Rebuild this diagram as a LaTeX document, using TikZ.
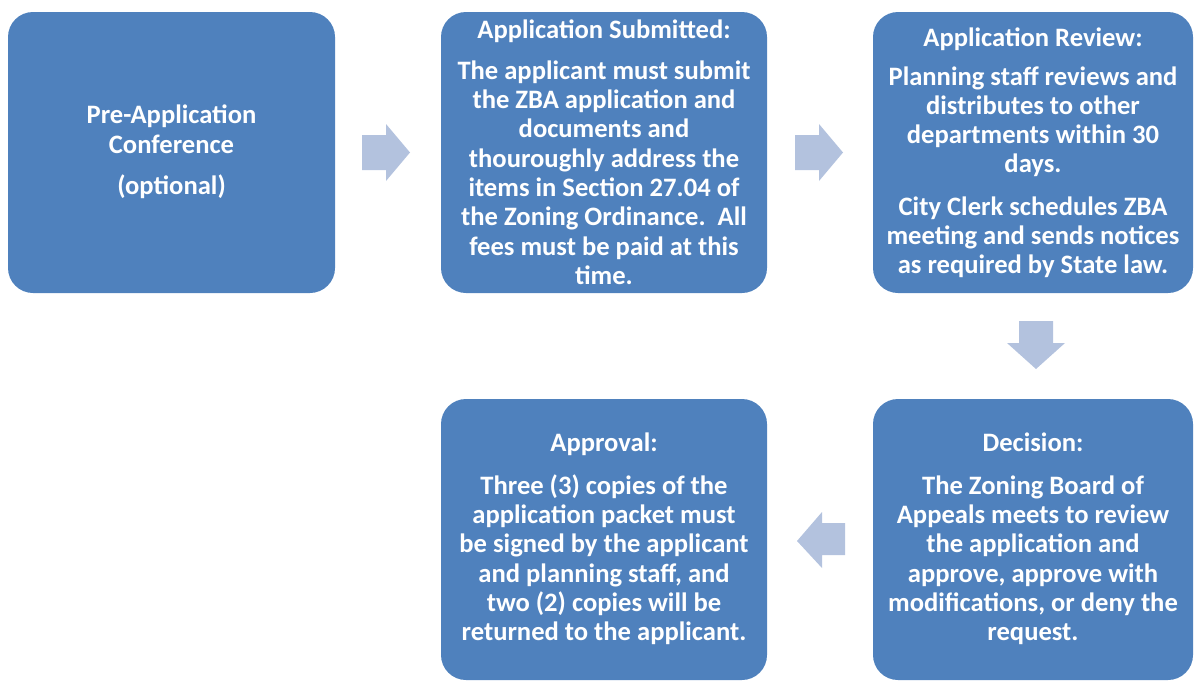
\documentclass[tikz,border=0pt]{standalone}
\usepackage{fontspec}
\setmainfont{Carlito}
\definecolor{boxblue}{RGB}{79,129,189}
\definecolor{arrowblue}{RGB}{179,194,222}
\tikzset{
  stepbox/.style={draw=none,fill=boxblue,rounded corners=25pt},
  steptext/.style={text=white,font={\bfseries\fontsize{26.6}{29.3}\selectfont},align=center,inner sep=0pt},
  blockarrow/.style={fill=arrowblue,draw=none}
}
\begin{document}
\begin{tikzpicture}[x=1pt,y=-1pt]
\useasboundingbox (0,0) rectangle (1194,680);
% boxes
\path[stepbox] (8,12) rectangle (335,293);
\coordinate (b1) at (171.5,152);
\path[stepbox] (441,12) rectangle (767,293);
\coordinate (b2) at (604,152);
\path[stepbox] (873,12) rectangle (1193,293);
\coordinate (b3) at (1033,153);
\path[stepbox] (873,399) rectangle (1193,680);
\coordinate (b4) at (1033,539);
\path[stepbox] (441,399) rectangle (767,680);
\coordinate (b5) at (604,539);
% texts
\node[steptext] (t1) at (b1) {Pre-Application\\Conference\\[12pt](optional)};
\node[steptext] (t2) at (b2) {Application Submitted:\\[12pt]The applicant must submit\\the ZBA application and\\documents and\\thouroughly address the\\items in Section 27.04 of\\the Zoning Ordinance.\ \ All\\fees must be paid at this\\time.};
\node[steptext] (t3) at (b3) {Application Review:\\[9pt]Planning staff reviews and\\distributes to other\\departments within 30\\days.\\[13pt]City Clerk schedules ZBA\\meeting and sends notices\\as required by State law.};
\node[steptext] (t4) at (b4) {Decision:\\[13pt]The Zoning Board of\\Appeals meets to review\\the application and\\approve, approve with\\modifications, or deny the\\request.};
\node[steptext] (t5) at (b5) {Approval:\\[13pt]Three (3) copies of the\\application packet must\\be signed by the applicant\\and planning staff, and\\two (2) copies will be\\returned to the applicant.};
% block arrows
\path[blockarrow] (362,135) -- (386,135) -- (386,124) -- (410,152.5) -- (386,181) -- (386,170) -- (362,170) -- cycle;
\path[blockarrow] (795,135) -- (819,135) -- (819,124) -- (843,152.5) -- (819,181) -- (819,170) -- (795,170) -- cycle;
\path[blockarrow] (1019,321) -- (1053,321) -- (1053,343) -- (1065,343) -- (1036,369) -- (1007,343) -- (1019,343) -- cycle;
\path[blockarrow] (845,523) -- (822,523) -- (822,512) -- (797,541) -- (822,568) -- (822,555) -- (845,555) -- cycle;
\end{tikzpicture}
\end{document}
